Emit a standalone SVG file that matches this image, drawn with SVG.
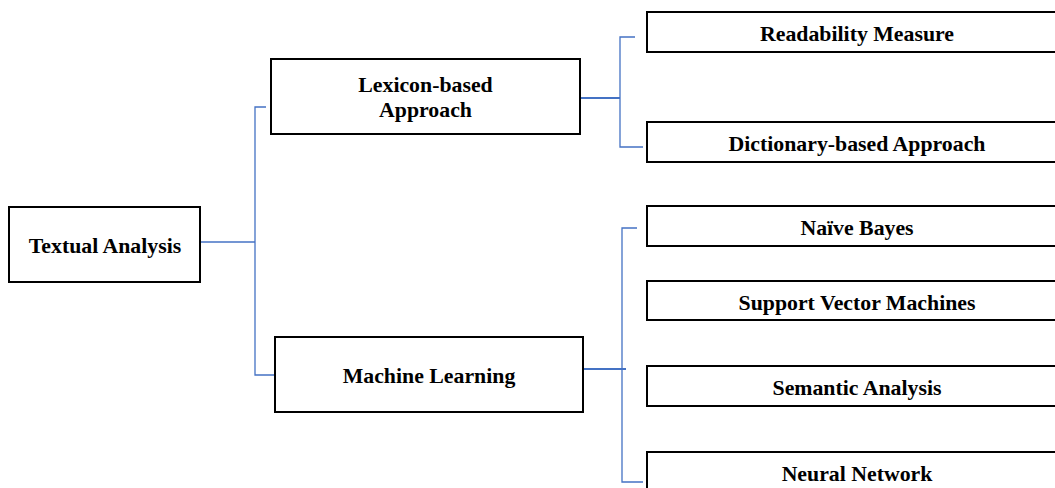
<svg xmlns="http://www.w3.org/2000/svg" width="1055" height="488" viewBox="0 0 1055 488">
  <style>
    .box { fill: #ffffff; stroke: #000000; stroke-width: 2; }
    .lbl { font-family: "Liberation Serif", "Times New Roman", serif; font-weight: bold; font-size: 21.8px; fill: #000000; text-anchor: middle; }
    .link { fill: none; stroke: #4472c4; stroke-width: 1.3; }
    .link-thick { fill: none; stroke: #4472c4; stroke-width: 2; }
  </style>
  <rect width="1055" height="488" fill="#ffffff"/>

  <!-- connectors -->
  <g id="connectors">
    <path class="link" d="M200 242 H255"/>
    <path class="link" d="M266 107 H255 V375 H275"/>
    <path class="link-thick" d="M580 98 H620"/>
    <path class="link" d="M635 37 H620 V147 H643"/>
    <path class="link-thick" d="M583 369 H626"/>
    <path class="link" d="M637 228 H622 V482 H643"/>
  </g>

  <g id="textual-analysis">
    <rect class="box" x="9" y="207" width="191" height="75"/>
    <text class="lbl" x="105" y="253">Textual Analysis</text>
  </g>

  <g id="lexicon-based">
    <rect class="box" x="271" y="59" width="309" height="75"/>
    <text class="lbl" x="425.5" y="92">Lexicon-based</text>
    <text class="lbl" x="425.5" y="117">Approach</text>
  </g>

  <g id="machine-learning">
    <rect class="box" x="275" y="337" width="308" height="75"/>
    <text class="lbl" x="429" y="383">Machine Learning</text>
  </g>

  <g id="readability-measure">
    <rect class="box" x="647" y="12" width="420" height="40"/>
    <text class="lbl" x="857" y="41">Readability Measure</text>
  </g>

  <g id="dictionary-based">
    <rect class="box" x="647" y="122" width="420" height="40"/>
    <text class="lbl" x="857" y="151">Dictionary-based Approach</text>
  </g>

  <g id="naive-bayes">
    <rect class="box" x="647" y="206" width="420" height="40"/>
    <text class="lbl" x="857" y="235">Naïve Bayes</text>
  </g>

  <g id="svm">
    <rect class="box" x="647" y="281" width="420" height="39"/>
    <text class="lbl" x="857" y="310">Support Vector Machines</text>
  </g>

  <g id="semantic-analysis">
    <rect class="box" x="647" y="366" width="420" height="40"/>
    <text class="lbl" x="857" y="395">Semantic Analysis</text>
  </g>

  <g id="neural-network">
    <rect class="box" x="647" y="452" width="420" height="50"/>
    <text class="lbl" x="857" y="481">Neural Network</text>
  </g>
</svg>
